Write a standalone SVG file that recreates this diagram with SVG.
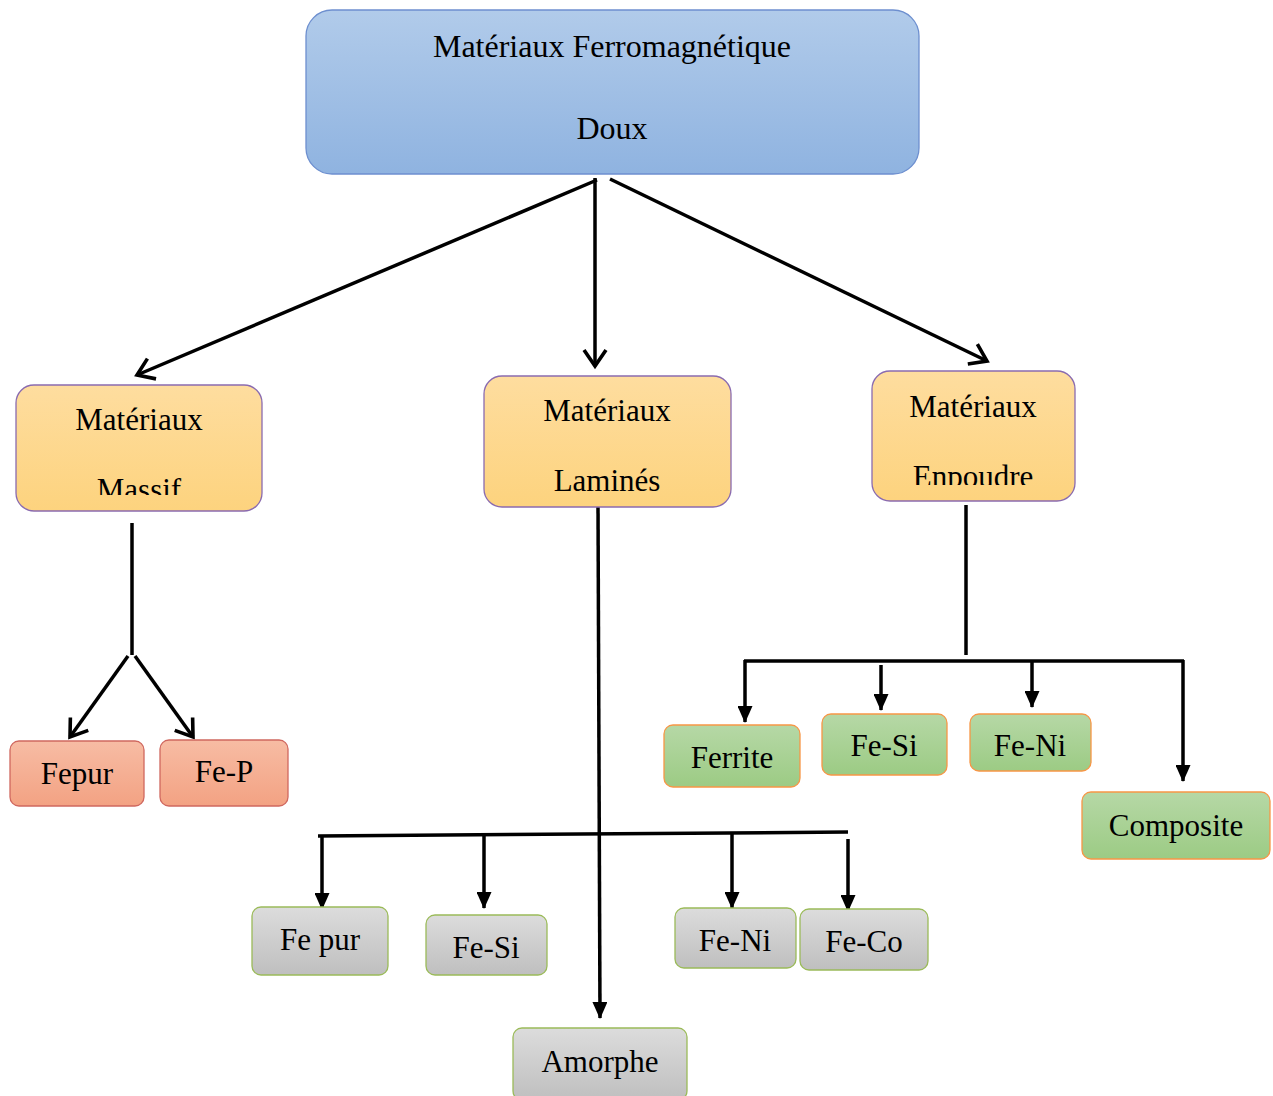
<svg xmlns="http://www.w3.org/2000/svg" width="1273" height="1096" viewBox="0 0 1273 1096">
<style>
text{font-family:"Liberation Serif","Times New Roman",serif;font-size:31px;fill:#000;text-anchor:middle}
.top text{font-size:32px}
.line{stroke:#000;stroke-width:3.5;fill:none}
.open{marker-end:url(#openArrow)}
.fill{marker-end:url(#fillArrow)}
.blue{fill:url(#gBlue);stroke:#6d8fcf;stroke-width:1.3}
.orange{fill:url(#gOrange);stroke:#8a6bb0;stroke-width:1.3}
.red{fill:url(#gRed);stroke:#d0685f;stroke-width:1.3}
.gray{fill:url(#gGray);stroke:#9bbb59;stroke-width:1.3}
.green{fill:url(#gGreen);stroke:#f79646;stroke-width:1.3}
</style>
<defs>
<linearGradient id="gBlue" x1="0" y1="0" x2="0" y2="1"><stop offset="0" stop-color="#b1cbea"/><stop offset="1" stop-color="#8fb3e0"/></linearGradient>
<linearGradient id="gOrange" x1="0" y1="0" x2="0" y2="1"><stop offset="0" stop-color="#fedd9f"/><stop offset="1" stop-color="#fdd37e"/></linearGradient>
<linearGradient id="gRed" x1="0" y1="0" x2="0" y2="1"><stop offset="0" stop-color="#f7bca4"/><stop offset="1" stop-color="#f3a283"/></linearGradient>
<linearGradient id="gGray" x1="0" y1="0" x2="0" y2="1"><stop offset="0" stop-color="#dcdcdc"/><stop offset="1" stop-color="#bfbfbf"/></linearGradient>
<linearGradient id="gGreen" x1="0" y1="0" x2="0" y2="1"><stop offset="0" stop-color="#b6d8a6"/><stop offset="1" stop-color="#9ccb84"/></linearGradient>
<marker id="openArrow" markerUnits="userSpaceOnUse" viewBox="0 0 22 26" markerWidth="22" markerHeight="26" refX="18" refY="13" orient="auto">
<path d="M2,2 L18,13 L2,24" fill="none" stroke="#000" stroke-width="3.6"/>
</marker>
<marker id="fillArrow" markerUnits="userSpaceOnUse" viewBox="0 0 17 15" markerWidth="17" markerHeight="15" refX="16" refY="7.5" orient="auto">
<path d="M0,0 L17,7.5 L0,15 z" fill="#000"/>
</marker>
<clipPath id="clipMassif"><rect x="16" y="385" width="246" height="110"/></clipPath>
<clipPath id="clipPoudre"><rect x="872" y="371" width="203" height="114"/></clipPath>
</defs>

<g id="connectors">
<line class="line open" x1="597" y1="180" x2="137" y2="375"/>
<line class="line open" x1="595" y1="178" x2="595" y2="366"/>
<line class="line open" x1="610" y1="179" x2="987" y2="361"/>

<line class="line" x1="132" y1="523" x2="132" y2="655"/>
<line class="line open" x1="128" y1="656" x2="70" y2="737"/>
<line class="line open" x1="135" y1="656" x2="193" y2="737"/>

<line class="line fill" x1="598" y1="505" x2="600" y2="1018"/>
<line class="line" x1="318" y1="836" x2="848" y2="832"/>
<line class="line fill" x1="322" y1="836" x2="322" y2="909"/>
<line class="line fill" x1="484" y1="833" x2="484" y2="908"/>
<line class="line fill" x1="732" y1="833" x2="732" y2="908"/>
<line class="line fill" x1="848" y1="839" x2="848" y2="911"/>

<line class="line" x1="966" y1="505" x2="966" y2="655"/>
<line class="line" x1="744" y1="661" x2="1184" y2="661"/>
<line class="line fill" x1="745" y1="660" x2="745" y2="722"/>
<line class="line fill" x1="881" y1="665" x2="881" y2="710"/>
<line class="line fill" x1="1032" y1="660" x2="1032" y2="707"/>
<line class="line fill" x1="1183" y1="660" x2="1183" y2="781"/>
</g>

<g id="node-root" class="top">
<rect class="blue" x="306" y="10" width="613" height="164" rx="26"/>
<text x="612" y="57">Matériaux Ferromagnétique</text>
<text x="612" y="139">Doux</text>
</g>

<g id="node-massif">
<rect class="orange" x="16" y="385" width="246" height="126" rx="18"/>
<text x="139" y="430">Matériaux</text>
<text x="139" y="500" clip-path="url(#clipMassif)">Massif</text>
</g>

<g id="node-lamines">
<rect class="orange" x="484" y="376" width="247" height="131" rx="18"/>
<text x="607" y="421">Matériaux</text>
<text x="607" y="491">Laminés</text>
</g>

<g id="node-poudre">
<rect class="orange" x="872" y="371" width="203" height="130" rx="18"/>
<text x="973" y="417">Matériaux</text>
<text x="973" y="487" clip-path="url(#clipPoudre)">Enpoudre</text>
</g>

<g id="node-fepur">
<rect class="red" x="10" y="741" width="134" height="65" rx="9"/>
<text x="77" y="784">Fepur</text>
</g>
<g id="node-fep">
<rect class="red" x="160" y="740" width="128" height="66" rx="9"/>
<text x="224" y="782">Fe-P</text>
</g>

<g id="node-fe-pur">
<rect class="gray" x="252" y="907" width="136" height="68" rx="9"/>
<text x="320" y="950">Fe pur</text>
</g>
<g id="node-fe-si-l">
<rect class="gray" x="426" y="915" width="121" height="60" rx="9"/>
<text x="486" y="958">Fe-Si</text>
</g>
<g id="node-fe-ni-l">
<rect class="gray" x="675" y="908" width="121" height="60" rx="9"/>
<text x="735" y="951">Fe-Ni</text>
</g>
<g id="node-fe-co">
<rect class="gray" x="800" y="909" width="128" height="61" rx="9"/>
<text x="864" y="952">Fe-Co</text>
</g>
<g id="node-amorphe">
<rect class="gray" x="513" y="1028" width="174" height="72" rx="9"/>
<text x="600" y="1072">Amorphe</text>
</g>

<g id="node-ferrite">
<rect class="green" x="664" y="725" width="136" height="62" rx="9"/>
<text x="732" y="768">Ferrite</text>
</g>
<g id="node-fe-si-p">
<rect class="green" x="822" y="714" width="125" height="61" rx="9"/>
<text x="884" y="756">Fe-Si</text>
</g>
<g id="node-fe-ni-p">
<rect class="green" x="970" y="714" width="121" height="57" rx="9"/>
<text x="1030" y="756">Fe-Ni</text>
</g>
<g id="node-composite">
<rect class="green" x="1082" y="792" width="188" height="67" rx="9"/>
<text x="1176" y="836">Composite</text>
</g>
</svg>
